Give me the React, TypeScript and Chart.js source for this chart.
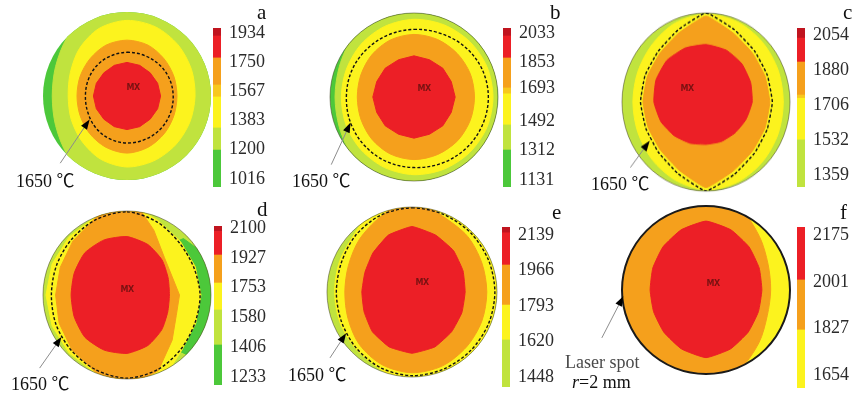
import React, { useEffect, useRef } from 'react';
import { Chart, registerables } from 'chart.js';

Chart.register(...registerables);

// ---------- palette ----------
const DR = '#c0141f';
const RD = '#ec1f26';
const OR = '#f5a01c';
const YO = '#f8c81e';
const YE = '#fcf31e';
const YG = '#c0e33e';
const GR = '#4cc83a';

// ---------- polar directions (clockwise from top) ----------
const DIRECTIONS = ['N', 'NNE', 'NE', 'ENE', 'E', 'ESE', 'SE', 'SSE', 'S', 'SSW', 'SW', 'WSW', 'W', 'WNW', 'NW', 'NNW'];

// band outer radii in mm (spot radius r = 2 mm) per direction
const EDGE = [2.2, 2.2, 2.2, 2.2, 2.2, 2.2, 2.2, 2.2, 2.2, 2.2, 2.2, 2.2, 2.2, 2.2, 2.2, 2.2];

const A_YG = [2.2, 2.2, 2.2, 2.2, 2.2, 2.2, 2.2, 2.2, 2.2, 2.2, 2.0, 1.84, 1.78, 1.84, 2.0, 2.2];
const A_Y = [1.8, 1.78, 1.72, 1.66, 1.62, 1.62, 1.64, 1.67, 1.69, 1.63, 1.52, 1.44, 1.4, 1.46, 1.6, 1.74];
const A_O = [1.33, 1.31, 1.25, 1.21, 1.19, 1.21, 1.26, 1.32, 1.36, 1.32, 1.26, 1.21, 1.19, 1.21, 1.25, 1.31];
const A_R = [0.8, 0.79, 0.78, 0.79, 0.8, 0.79, 0.78, 0.79, 0.8, 0.79, 0.78, 0.79, 0.8, 0.79, 0.78, 0.79];
const A_ISO = [1.04, 1.05, 1.07, 1.09, 1.1, 1.11, 1.12, 1.12, 1.12, 1.1, 1.06, 1.01, 0.99, 1.0, 1.02, 1.03];

const B_YG = [2.2, 2.2, 2.2, 2.05, 1.98, 2.05, 2.2, 2.2, 2.2, 2.2, 2.05, 1.92, 1.88, 1.92, 2.05, 2.2];
const B_Y = [1.85, 1.86, 1.87, 1.88, 1.88, 1.88, 1.87, 1.86, 1.85, 1.82, 1.78, 1.75, 1.73, 1.74, 1.78, 1.82];
const B_O = [1.49, 1.48, 1.46, 1.45, 1.44, 1.45, 1.47, 1.48, 1.49, 1.47, 1.42, 1.37, 1.35, 1.37, 1.42, 1.47];
const B_R = [0.98, 0.96, 0.97, 0.96, 0.98, 0.96, 0.97, 0.96, 0.98, 0.96, 0.97, 0.96, 0.98, 0.96, 0.97, 0.96];
const B_ISO = [1.61, 1.64, 1.7, 1.75, 1.77, 1.76, 1.74, 1.71, 1.68, 1.67, 1.65, 1.63, 1.61, 1.61, 1.6, 1.6];

const C_Y = [1.97, 1.95, 1.9, 1.86, 1.84, 1.86, 1.9, 1.95, 1.97, 1.9, 1.82, 1.76, 1.74, 1.76, 1.82, 1.92];
const C_O = [1.93, 1.68, 1.56, 1.52, 1.52, 1.52, 1.56, 1.68, 1.92, 1.66, 1.53, 1.49, 1.5, 1.51, 1.55, 1.68];
const C_R = [1.29, 1.26, 1.21, 1.15, 1.1, 1.03, 0.98, 0.96, 0.95, 1.0, 1.07, 1.16, 1.24, 1.29, 1.32, 1.31];
const C_ISO = [2.0, 1.76, 1.63, 1.58, 1.58, 1.58, 1.63, 1.76, 2.0, 1.74, 1.6, 1.55, 1.56, 1.57, 1.61, 1.75];

const D_G = [1.0, 1.0, 1.9, 2.2, 2.2, 2.2, 2.0, 1.0, 1.0, 1.0, 1.0, 1.0, 1.0, 1.0, 1.0, 1.0];
const D_Y = [2.2, 1.92, 1.8, 1.76, 1.76, 1.77, 1.85, 2.2, 2.2, 2.0, 1.95, 1.93, 1.93, 1.93, 1.95, 2.0];
const D_O = [2.5, 1.67, 1.26, 1.16, 1.25, 1.27, 1.52, 1.95, 2.2, 1.98, 1.85, 1.75, 1.7, 1.72, 1.82, 1.98];
const D_R = [1.39, 1.3, 1.18, 1.06, 1.01, 1.05, 1.17, 1.3, 1.39, 1.42, 1.42, 1.36, 1.33, 1.36, 1.42, 1.42];
const D_ISO = [1.98, 1.88, 1.76, 1.72, 1.74, 1.75, 1.82, 1.92, 1.98, 1.93, 1.87, 1.83, 1.8, 1.82, 1.87, 1.94];

const E_Y = [2.2, 2.2, 2.2, 2.2, 2.2, 2.2, 2.2, 2.2, 2.2, 1.96, 1.88, 1.84, 1.82, 1.85, 1.92, 2.2];
const E_O = [2.2, 1.92, 1.85, 1.78, 1.76, 1.78, 1.82, 1.88, 1.9, 1.85, 1.75, 1.63, 1.58, 1.62, 1.75, 1.92];
const E_R = [1.54, 1.45, 1.38, 1.3, 1.25, 1.27, 1.32, 1.4, 1.44, 1.4, 1.32, 1.22, 1.18, 1.2, 1.3, 1.45];
const E_ISO = [1.98, 1.97, 1.96, 1.95, 1.95, 1.95, 1.95, 1.96, 1.97, 1.93, 1.86, 1.8, 1.78, 1.8, 1.88, 1.95];

const F_O = [2.2, 2.1, 1.8, 1.6, 1.54, 1.58, 1.78, 2.05, 2.2, 2.2, 2.2, 2.2, 2.2, 2.2, 2.2, 2.2];
const F_R = [1.64, 1.55, 1.45, 1.37, 1.33, 1.35, 1.42, 1.52, 1.61, 1.52, 1.42, 1.35, 1.33, 1.37, 1.45, 1.55];

// arrow tip / tail in mm (x right, y up, origin at spot centre)
const A_TIP = [-0.89, -0.56];
const A_TAIL = [-1.59, -1.6];
const B_TIP = [-1.51, -0.61];
const B_TAIL = [-1.97, -1.61];
const C_TIP = [-1.34, -0.87];
const C_TAIL = [-1.8, -1.47];
const D_TIP = [-1.56, -1.0];
const D_TAIL = [-2.08, -1.74];
const E_TIP = [-1.55, -0.97];
const E_TAIL = [-1.93, -1.55];
const F_TIP = [-1.97, -0.15];
const F_TAIL = [-2.48, -1.14];

// ---------- colour bars (°C) ----------
const A_TICKS = [1934, 1750, 1567, 1383, 1200, 1016];
const B_TICKS = [2033, 1853, 1693, 1492, 1312, 1131];
const C_TICKS = [2054, 1880, 1706, 1532, 1359];
const D_TICKS = [2100, 1927, 1753, 1580, 1406, 1233];
const E_TICKS = [2139, 1966, 1793, 1620, 1448];
const F_TICKS = [2175, 2001, 1827, 1654];

const A_RANGE = [966, 1965];
const B_RANGE = [1088, 2064];
const C_RANGE = [1299, 2089];
const D_RANGE = [1186, 2112];
const E_RANGE = [1399, 2178];
const F_RANGE = [1606, 2205];

const A_EDGES = [966, 1198, 1337, 1532, 1607, 1777, 1915, 1965];
const A_COLORS = [GR, YG, YE, YO, OR, RD, DR];
const B_EDGES = [1088, 1315, 1469, 1660, 1696, 1880, 2015, 2064];
const B_COLORS = [GR, YG, YE, YO, OR, RD, DR];
const C_EDGES = [1299, 1533, 1740, 1756, 1920, 2039, 2089];
const C_COLORS = [YG, YE, YO, OR, RD, DR];
const D_EDGES = [1186, 1419, 1623, 1780, 1943, 2080, 2112];
const D_COLORS = [GR, YG, YE, OR, RD, DR];
const E_EDGES = [1399, 1628, 1798, 1993, 2150, 2178];
const E_COLORS = [YG, YE, OR, RD, DR];
const F_EDGES = [1606, 1822, 2008, 2205];
const F_COLORS = [YE, OR, RD];

const SERIF = "'Liberation Serif', 'Times New Roman', 'Noto Sans CJK SC', serif";

const PANELS: any[] = [
  {
    id: 'a', cx: 127, cy: 96, R: 84, sy: 1, outline: null,
    layers: [[EDGE, GR, 0], [A_YG, YG, 0.3], [A_Y, YE, 0.3], [A_O, OR, 0.3], [A_R, RD, 0]],
    iso: A_ISO, isoT: 0.35, tip: A_TIP, tail: A_TAIL,
    ticks: A_TICKS, range: A_RANGE, edges: A_EDGES, colors: A_COLORS, bar: [213, 28, 187],
    letter: [257, 20], label: [16, 187], mx: [133, 87],
  },
  {
    id: 'b', cx: 414, cy: 97, R: 84, sy: 1, outline: 'rgba(70,70,40,0.55)',
    layers: [[EDGE, GR, 0], [B_YG, YG, 0.3], [B_Y, YE, 0.3], [B_O, OR, 0.3], [B_R, RD, 0]],
    iso: B_ISO, isoT: 0.35, tip: B_TIP, tail: B_TAIL,
    ticks: B_TICKS, range: B_RANGE, edges: B_EDGES, colors: B_COLORS, bar: [503, 28, 187],
    letter: [550, 20], label: [292, 187], mx: [424, 88],
  },
  {
    id: 'c', cx: 706, cy: 102, R: 84, sy: 1.06, outline: 'rgba(70,70,40,0.55)',
    layers: [[EDGE, YG, 0], [C_Y, YE, 0.3], [C_O, OR, 0.12], [C_R, RD, 0.15]],
    iso: C_ISO, isoT: 0.12, tip: C_TIP, tail: C_TAIL,
    ticks: C_TICKS, range: C_RANGE, edges: C_EDGES, colors: C_COLORS, bar: [797, 28, 187],
    letter: [843, 20], label: [591, 190], mx: [687, 88],
  },
  {
    id: 'd', cx: 127, cy: 295, R: 84, sy: 1, outline: 'rgba(70,70,40,0.55)',
    layers: [[EDGE, YG, 0], [D_G, GR, 0], [D_Y, YE, 0], [D_O, OR, 0], [D_R, RD, 0.2]],
    iso: D_ISO, isoT: 0.3, tip: D_TIP, tail: D_TAIL,
    ticks: D_TICKS, range: D_RANGE, edges: D_EDGES, colors: D_COLORS, bar: [214, 226, 385],
    letter: [257, 217], label: [11, 390], mx: [127, 289],
  },
  {
    id: 'e', cx: 412, cy: 292, R: 85, sy: 1, outline: 'rgba(70,70,40,0.55)',
    layers: [[EDGE, YG, 0], [E_Y, YE, 0.3], [E_O, OR, 0.3], [E_R, RD, 0.12]],
    iso: E_ISO, isoT: 0.3, tip: E_TIP, tail: E_TAIL,
    ticks: E_TICKS, range: E_RANGE, edges: E_EDGES, colors: E_COLORS, bar: [502, 227, 387],
    letter: [552, 220], label: [288, 381], mx: [422, 282],
  },
  {
    id: 'f', cx: 706, cy: 290, R: 84, sy: 1, outline: '#1a1a1a', outlineW: 2,
    layers: [[EDGE, YE, 0], [F_O, OR, 0.3], [F_R, RD, 0.15]],
    iso: null, isoT: 0, tip: F_TIP, tail: F_TAIL,
    ticks: F_TICKS, range: F_RANGE, edges: F_EDGES, colors: F_COLORS, bar: [797, 227, 388],
    letter: [840, 220], label: null, mx: [713, 283],
  },
];

const CW = 240;
const CH = 200;

function Disk({ p }: { p: any }) {
  const ref = useRef<HTMLCanvasElement>(null);
  useEffect(() => {
    const canvas = ref.current;
    if (!canvas) return;
    const datasets: any[] = [];
    if (p.iso) {
      datasets.push({
        data: p.iso, fill: false, borderColor: '#111', borderWidth: 1.4,
        borderDash: [3, 2], tension: p.isoT, pointRadius: 0,
      });
    }
    p.layers.slice().reverse().forEach((l: any) => {
      datasets.push({
        data: l[0], backgroundColor: l[1], borderColor: l[1], borderWidth: 1,
        fill: true, tension: l[2], pointRadius: 0,
      });
    });
    const plugin = {
      id: 'diskClip',
      beforeDatasetsDraw(chart: any) {
        const s = chart.scales.r;
        const ctx = chart.ctx;
        ctx.save();
        ctx.beginPath();
        ctx.arc(s.xCenter, s.yCenter, s.drawingArea, 0, Math.PI * 2);
        ctx.clip();
      },
      afterDatasetsDraw(chart: any) {
        chart.ctx.restore();
      },
      afterDraw(chart: any) {
        const s = chart.scales.r;
        const ctx = chart.ctx;
        const k = s.getDistanceFromCenterForValue(1);
        const tx = s.xCenter + p.tip[0] * k;
        const ty = s.yCenter - p.tip[1] * k;
        const sx = s.xCenter + p.tail[0] * k;
        const sy = s.yCenter - p.tail[1] * k;
        const dx = tx - sx;
        const dy = ty - sy;
        const len = Math.hypot(dx, dy);
        const ux = dx / len;
        const uy = dy / len;
        const hl = 10;
        const hw = 3.6;
        const bx = tx - ux * hl;
        const by = ty - uy * hl;
        ctx.save();
        ctx.strokeStyle = '#8c8c8c';
        ctx.lineWidth = 1;
        ctx.beginPath();
        ctx.moveTo(sx, sy);
        ctx.lineTo(bx, by);
        ctx.stroke();
        ctx.fillStyle = '#000';
        ctx.beginPath();
        ctx.moveTo(tx, ty);
        ctx.lineTo(bx - uy * hw, by + ux * hw);
        ctx.lineTo(bx + uy * hw, by - ux * hw);
        ctx.closePath();
        ctx.fill();
        ctx.restore();
      },
    };
    const padX = CW / 2 - p.R;
    const padY = CH / 2 - p.R;
    const chart = new Chart(canvas, {
      type: 'radar',
      data: { labels: DIRECTIONS, datasets },
      options: {
        responsive: false,
        animation: false,
        events: [],
        layout: { padding: { left: padX, right: padX, top: padY, bottom: padY } },
        plugins: { legend: { display: false }, tooltip: { enabled: false } },
        scales: {
          r: {
            min: 0,
            max: 2,
            ticks: { display: false, stepSize: 2 },
            pointLabels: { display: false },
            angleLines: { display: false },
            grid: {
              display: !!p.outline,
              circular: true,
              color: p.outline || 'rgba(0,0,0,0)',
              lineWidth: p.outlineW || 1,
              z: 1,
            },
          },
        },
      } as any,
      plugins: [plugin],
    });
    return () => chart.destroy();
  }, [p]);
  return (
    <div
      style={{
        position: 'absolute',
        left: p.cx - CW / 2,
        top: p.cy - CH / 2,
        width: CW,
        height: CH,
        transform: `scaleY(${p.sy})`,
        transformOrigin: `${CW / 2}px ${CH / 2}px`,
      }}
    >
      <canvas ref={ref} width={CW} height={CH} style={{ display: 'block', width: CW, height: CH }} />
    </div>
  );
}

const BAR_W = 60;
const AXIS_W = 52;
const TICK_PAD = 8;
const TICK_LH = 20;
const BAR_PAD = TICK_LH / 2 + TICK_PAD;

function ColorBar({ p }: { p: any }) {
  const ref = useRef<HTMLCanvasElement>(null);
  const [left, top, bottom] = p.bar;
  const h = bottom - top + BAR_PAD * 2;
  useEffect(() => {
    const canvas = ref.current;
    if (!canvas) return;
    const datasets = p.colors.map((c: string, i: number) => ({
      data: [[p.edges[i], p.edges[i + 1]]],
      backgroundColor: c,
      borderWidth: 0,
      grouped: false,
      barPercentage: 1,
      categoryPercentage: 1,
    }));
    const chart = new Chart(canvas, {
      type: 'bar',
      data: { labels: [''], datasets },
      options: {
        responsive: false,
        animation: false,
        events: [],
        layout: { padding: 0 },
        plugins: { legend: { display: false }, tooltip: { enabled: false } },
        scales: {
          x: { display: false },
          y: {
            position: 'right',
            min: p.range[0],
            max: p.range[1],
            grid: { display: false, drawTicks: false },
            border: { display: false },
            afterBuildTicks: (ax: any) => {
              ax.ticks = p.ticks.map((v: number) => ({ value: v }));
            },
            afterFit: (ax: any) => {
              ax.width = AXIS_W;
            },
            ticks: {
              autoSkip: false,
              padding: TICK_PAD,
              color: '#2b2b2b',
              font: { family: SERIF, size: 18, lineHeight: `${TICK_LH}px` },
              callback: (v: any) => String(v),
            },
          },
        },
      } as any,
    });
    return () => chart.destroy();
  }, [p]);
  return (
    <canvas
      ref={ref}
      width={BAR_W}
      height={h}
      style={{ position: 'absolute', left, top: top - BAR_PAD, width: BAR_W, height: h, display: 'block' }}
    />
  );
}

function Txt({ x, base, size, children, color = '#111', italic = false }: any) {
  return (
    <span
      style={{
        position: 'absolute',
        left: x,
        top: base - 0.8375 * size,
        fontFamily: SERIF,
        fontSize: size,
        lineHeight: `${size}px`,
        color,
        whiteSpace: 'nowrap',
        fontStyle: italic ? 'italic' : 'normal',
      }}
    >
      {children}
    </span>
  );
}

export default function App() {
  return (
    <div
      style={{
        position: 'fixed',
        left: 0,
        top: 0,
        width: 856,
        height: 394,
        background: '#fff',
        overflow: 'hidden',
      }}
    >
      {PANELS.map((p) => (
        <React.Fragment key={p.id}>
          <Disk p={p} />
          <ColorBar p={p} />
          <Txt x={p.letter[0]} base={p.letter[1]} size={21}>{p.id}</Txt>
          {p.label && (
            <Txt x={p.label[0]} base={p.label[1]} size={18}>1650 ℃</Txt>
          )}
          <span
            style={{
              position: 'absolute',
              left: p.mx[0],
              top: p.mx[1],
              transform: 'translate(-50%, -50%)',
              fontFamily: 'DejaVu Sans, sans-serif',
              fontWeight: 'bold',
              fontSize: 8,
              color: '#7a1212',
              letterSpacing: -0.5,
            }}
          >
            MX
          </span>
        </React.Fragment>
      ))}
      <Txt x={565} base={368} size={18} color="#4a4a4a">Laser spot</Txt>
      <span
        style={{
          position: 'absolute',
          left: 572,
          top: 388 - 0.8375 * 18,
          fontFamily: SERIF,
          fontSize: 18,
          lineHeight: '18px',
          color: '#111',
          whiteSpace: 'nowrap',
        }}
      >
        <i>r</i>=2 mm
      </span>
    </div>
  );
}
